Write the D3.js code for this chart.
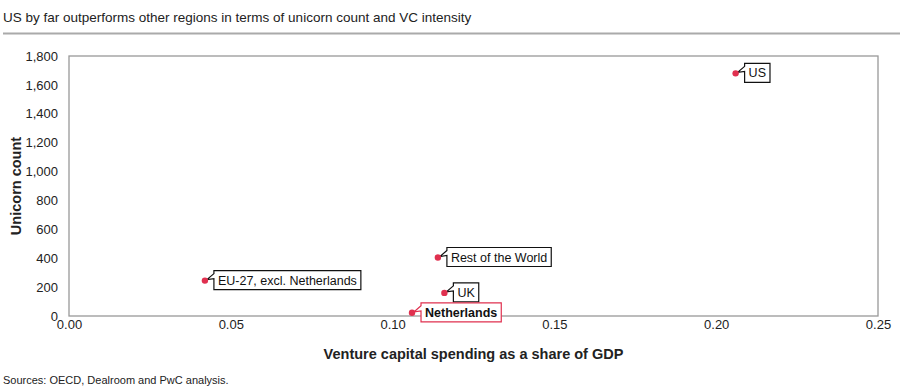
<!DOCTYPE html>
<html>
<head>
<meta charset="utf-8">
<script src="https://cdn.jsdelivr.net/npm/d3@7"></script>
<style>
  body { margin: 0; background: #fff; }
  text { font-family: "Liberation Sans", Arial, sans-serif; }
</style>
</head>
<body>
<script>
// data
var regions = ["US", "Rest of the World", "EU-27, excl. Netherlands", "UK", "Netherlands"];
var vcShare = [0.206, 0.114, 0.042, 0.116, 0.106];
var unicorns = [1680, 405, 245, 160, 22];
var highlight = [false, false, false, false, true];
var xTicks = [0, 0.05, 0.10, 0.15, 0.20, 0.25];
var yTicks = [0, 200, 400, 600, 800, 1000, 1200, 1400, 1600, 1800];

var width = 900, height = 391;
var svg = d3.select("body").append("svg")
  .attr("width", width)
  .attr("height", height);

var mLeft = 69, mRight = 878, mTop = 56, mBottom = 316;
var x = d3.scaleLinear().domain([0, 0.25]).range([mLeft, mRight]);
var y = d3.scaleLinear().domain([0, 1800]).range([mBottom, mTop]);

// title
svg.append("text")
  .attr("x", 3).attr("y", 22)
  .attr("font-size", 13.5)
  .attr("fill", "#222")
  .text("US by far outperforms other regions in terms of unicorn count and VC intensity");
svg.append("line")
  .attr("x1", 3).attr("x2", width)
  .attr("y1", 33.5).attr("y2", 33.5)
  .attr("stroke", "#aaa").attr("stroke-width", 2);

// plot frame
svg.append("rect")
  .attr("x", mLeft).attr("y", mTop)
  .attr("width", mRight - mLeft).attr("height", mBottom - mTop)
  .attr("fill", "none").attr("stroke", "#999").attr("stroke-width", 1.3);

// axes
var xAxis = svg.append("g")
  .attr("transform", "translate(0," + mBottom + ")")
  .call(d3.axisBottom(x).tickValues(xTicks).tickSize(0).tickPadding(4)
    .tickFormat(d3.format(".2f")));
var yAxis = svg.append("g")
  .attr("transform", "translate(" + mLeft + ",0)")
  .call(d3.axisLeft(y).tickValues(yTicks).tickSize(0).tickPadding(11)
    .tickFormat(d3.format(",")));
[xAxis, yAxis].forEach(function(g){
  g.select(".domain").remove();
  g.selectAll("text")
    .attr("font-size", 13)
    .attr("fill", "#222")
    .style("font-family", "Liberation Sans, Arial, sans-serif");
});

// axis titles
svg.append("text")
  .attr("x", (mLeft + mRight) / 2).attr("y", 359)
  .attr("text-anchor", "middle")
  .attr("font-size", 14.5).attr("font-weight", "bold").attr("fill", "#222")
  .text("Venture capital spending as a share of GDP");
svg.append("text")
  .attr("transform", "translate(21," + (mTop + mBottom) / 2 + ") rotate(-90)")
  .attr("text-anchor", "middle")
  .attr("font-size", 14.5).attr("font-weight", "bold").attr("fill", "#222")
  .text("Unicorn count");

// source
svg.append("text")
  .attr("x", 3).attr("y", 384)
  .attr("font-size", 11).attr("fill", "#222")
  .text("Sources: OECD, Dealroom and PwC analysis.");

// points
var red = "#e0304f";
var data = regions.map(function(r, i){
  return {name: r, x: vcShare[i], y: unicorns[i], hl: highlight[i]};
});

var labels = svg.selectAll("g.lab").data(data).enter().append("g").attr("class", "lab");
labels.each(function(d){
  var g = d3.select(this);
  var px = x(d.x), py = y(d.y);
  var bx = px + 9, by = py - 10;
  var t = g.append("text")
    .attr("x", bx + 4).attr("y", by + 14)
    .attr("font-size", 12.5)
    .attr("font-weight", d.hl ? "bold" : "normal")
    .attr("fill", "#111")
    .text(d.name);
  var w = t.node().getComputedTextLength() + 8, h = 19;
  var path = "M" + bx + "," + (by + 3) +
    " L" + (px + 2) + "," + (py - 1) +
    " L" + bx + "," + (by + 8) +
    " L" + bx + "," + (by + h) +
    " L" + (bx + w) + "," + (by + h) +
    " L" + (bx + w) + "," + by +
    " L" + bx + "," + by + " Z";
  g.insert("path", "text")
    .attr("d", path)
    .attr("fill", "#fff")
    .attr("stroke", d.hl ? red : "#111")
    .attr("stroke-width", 1.2);
  g.append("circle")
    .attr("cx", px).attr("cy", py).attr("r", 3.2)
    .attr("fill", red);
});
</script>
</body>
</html>
